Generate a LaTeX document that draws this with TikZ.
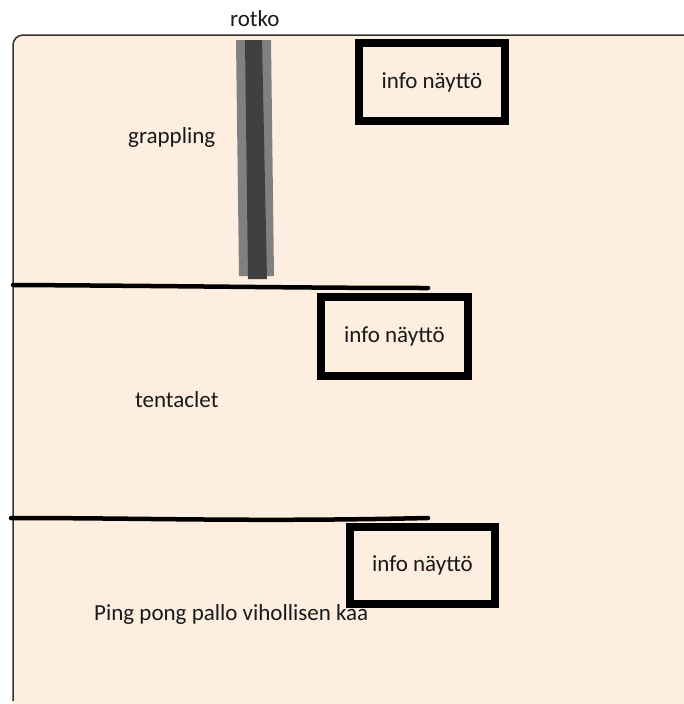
\documentclass[tikz,border=0pt]{standalone}
\usepackage{fontspec}
\setmainfont{Carlito}
\usetikzlibrary{positioning}
\definecolor{levelBg}{RGB}{253,238,224}
\definecolor{rotkoLight}{RGB}{128,128,128}
\definecolor{rotkoDark}{RGB}{64,64,64}
\definecolor{levelText}{RGB}{25,25,25}

\begin{document}
\begin{tikzpicture}[x=1pt, y=-1pt,
    infobox/.style={draw, line width=8pt, inner sep=0pt, font=\fontsize{23}{27}\selectfont, text=levelText},
    areaText/.style={anchor=base west, inner sep=0pt, font=\fontsize{23}{27}\selectfont, text=levelText},
    wall/.style={line width=4.5pt, line cap=round}
]
\useasboundingbox (0,0) rectangle (684,704);

% Level area
\fill[levelBg] (13,704) -- (13,45) arc[start angle=180, end angle=270, radius=10] -- (684,35) -- (684,704) -- cycle;
\draw[line width=1.5pt, draw=black!80, rounded corners=10pt] (686,35) -- (13,35) -- (13,701);

% Rotko
\node[areaText] (rotko) at (230,26) {rotko};
\fill[rotkoLight] (236,40) -- (271,40) -- (274,276) -- (239,276) -- cycle;
\fill[rotkoDark] (245,40) -- (262,40) -- (267,279) -- (248,279) -- cycle;

% Grappling
\node[areaText] (grappling) at (128,143) {grappling};
\node[infobox, minimum width=146pt, minimum height=78pt] (info1) at (432,82) {info näyttö};
\draw[wall] (13,285) .. controls (200,286) and (300,288) .. (428,288);

% Tentaclet
\node[areaText] (tentaclet) at (135,407) {tentaclet};
\node[infobox, minimum width=147pt, minimum height=79pt] (info2) at (394.5,336.5) {info näyttö};
\draw[wall] (11,518) .. controls (150,518) and (250,522) .. (428,518);

% Ping pong
\node[areaText] (pingpong) at (94,620) {Ping pong pallo vihollisen kaa};
\node[infobox, minimum width=145pt, minimum height=77pt] (info3) at (422.5,565.5) {info näyttö};
\end{tikzpicture}
\end{document}
